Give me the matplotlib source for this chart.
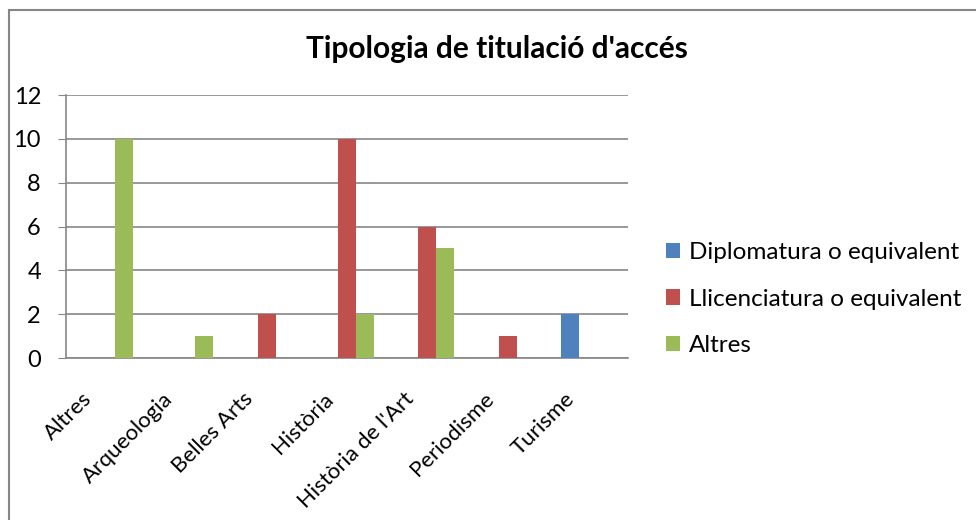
import numpy as np
import matplotlib.pyplot as plt
from matplotlib.patches import Rectangle
from matplotlib.transforms import ScaledTranslation

categories = ["Altres", "Arqueologia", "Belles Arts", "Història",
              "Història de l'Art", "Periodisme", "Turisme"]
diplomatura = [0, 0, 0, 0, 0, 0, 2]
llicenciatura = [0, 0, 2, 10, 6, 1, 0]
altres = [10, 1, 0, 2, 5, 0, 0]
series_names = ["Diplomatura o equivalent", "Llicenciatura o equivalent", "Altres"]
colors = ["#4F81BD", "#C0504D", "#9BBB59"]

plt.rcParams['font.family'] = ['Lato', 'DejaVu Sans']

fig = plt.figure(figsize=(9.76, 5.2), dpi=100)
ax = fig.add_axes([0.0676, 0.3115, 0.576, 0.5058])

# chart border like the spreadsheet frame
fig.patches.append(Rectangle((9/976, -0.1), 1.2, 1.1 - 10/520, transform=fig.transFigure,
                             fill=False, ec="#868686", lw=1.5))

x = np.arange(len(categories))
w = 1 / 4.5
for i, (vals, name, c) in enumerate(zip([diplomatura, llicenciatura, altres], series_names, colors)):
    ax.bar(x + (i - 1) * w, vals, width=w, color=c, label=name, zorder=3)

ax.set_xlim(-0.5, len(categories) - 0.5)
ax.set_ylim(0, 12)
ax.set_yticks(range(0, 13, 2))
ax.yaxis.grid(True, color="#868686", lw=1.2, zorder=0)
for s in ["top", "right"]:
    ax.spines[s].set_visible(False)
for s in ["left", "bottom"]:
    ax.spines[s].set_color("#868686")
    ax.spines[s].set_linewidth(1.2)
ax.tick_params(axis='y', length=6, color="#868686", labelsize=17, pad=12)
ax.tick_params(axis='x', length=0, labelsize=16, pad=0)
ax.set_xticks(x)
ax.set_xticklabels(categories, rotation=45, ha='right', va='center', rotation_mode='anchor')
shift = ScaledTranslation(-17 / 100, -38 / 100, fig.dpi_scale_trans)
for lbl in ax.get_xticklabels():
    lbl.set_transform(lbl.get_transform() + shift)

fig.text(0.509, 0.906, "Tipologia de titulació d'accés",
         ha='center', va='center', fontsize=21.5, fontweight='bold')

ax.legend(loc='center left', bbox_to_anchor=(0.682, 0.425), bbox_transform=fig.transFigure,
          frameon=False, fontsize=17.5, handlelength=0.6, handleheight=0.6,
          handletextpad=0.35, labelspacing=1.05, borderpad=0, borderaxespad=0)

fig.savefig("out.png", dpi=100)
